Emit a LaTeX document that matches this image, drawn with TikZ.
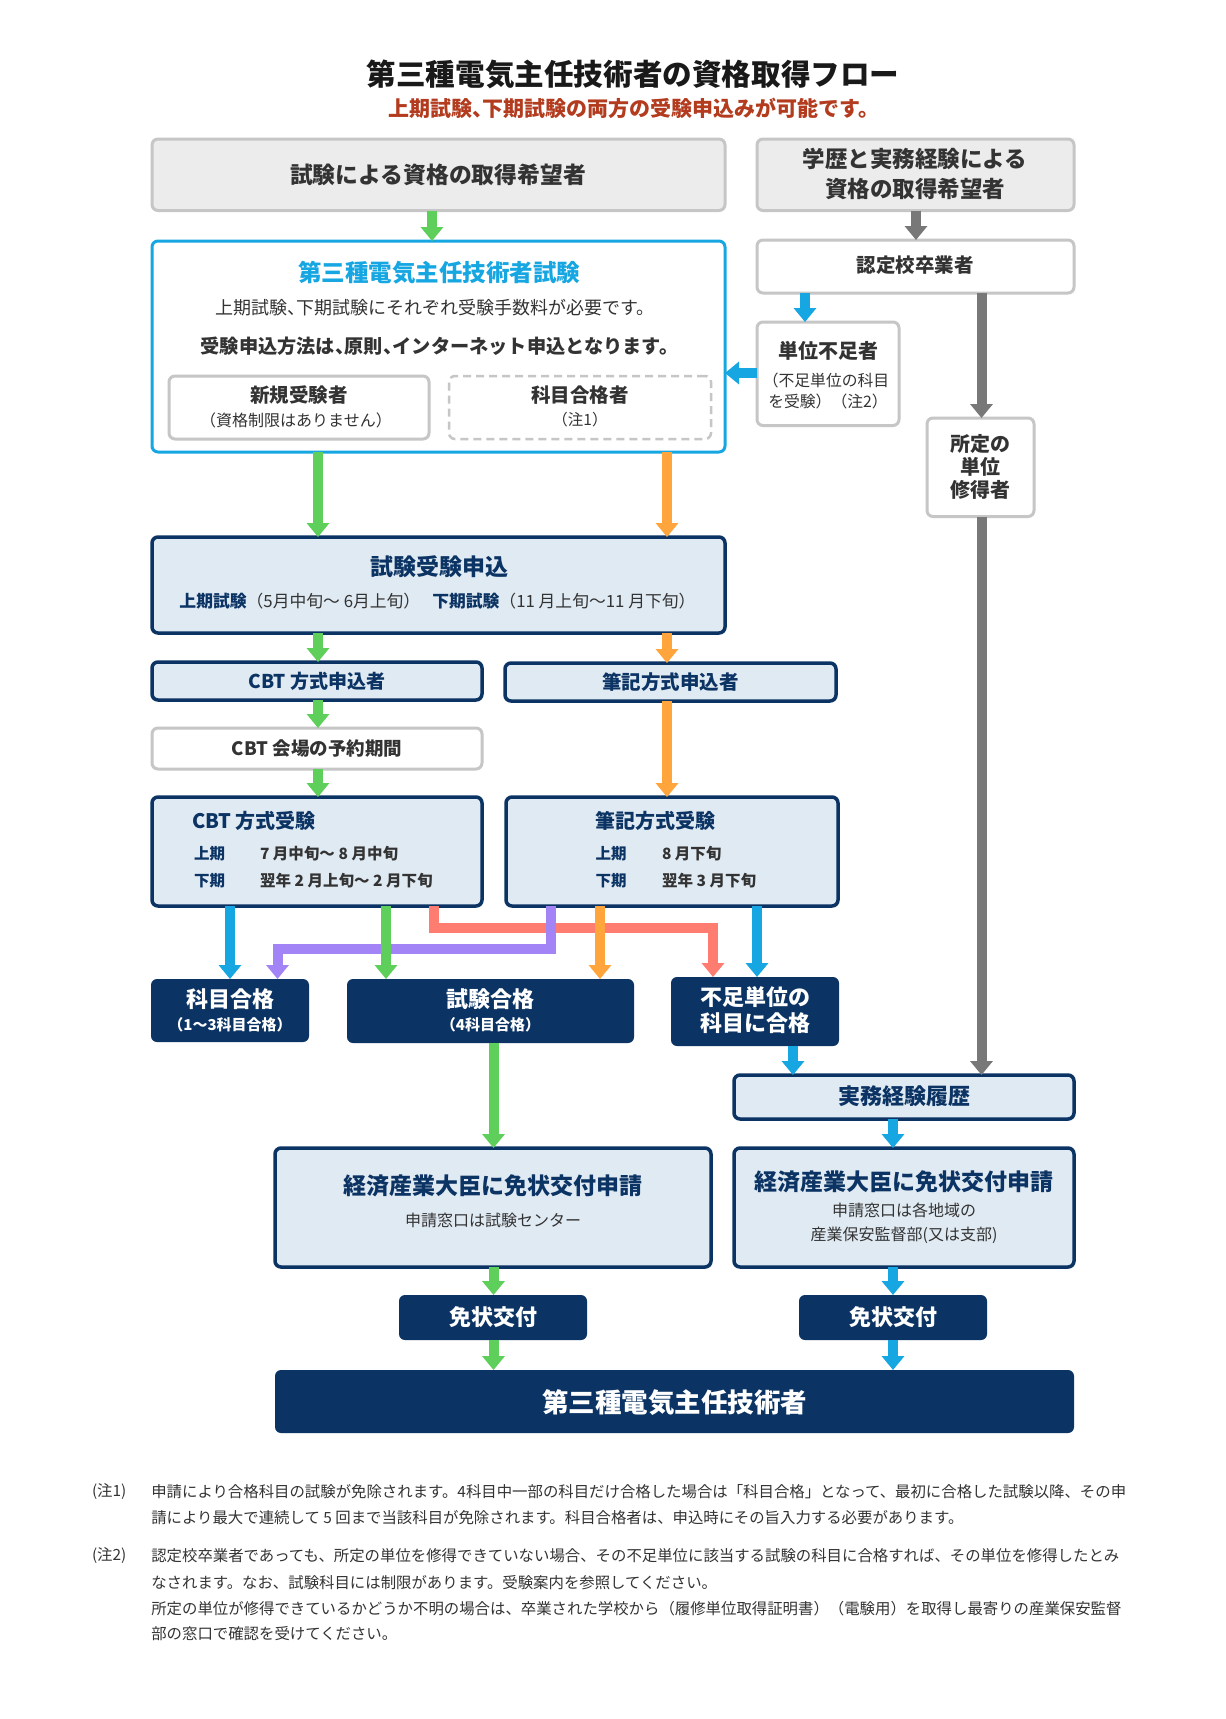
\documentclass[tikz,border=0pt]{standalone}
\usepackage{fontspec}
\setmainfont{Noto Sans CJK JP}
\usetikzlibrary{arrows.meta}
\definecolor{navy}{HTML}{0B3363}
\definecolor{lblue}{HTML}{E0EAF3}
\definecolor{gfill}{HTML}{ECECEC}
\definecolor{gline}{HTML}{C6C6C6}
\definecolor{cblue}{HTML}{16A6E2}
\definecolor{cgreen}{HTML}{5FCF5B}
\definecolor{corange}{HTML}{FFA53B}
\definecolor{cpurple}{HTML}{A384F6}
\definecolor{cred}{HTML}{FF7D70}
\definecolor{cgray}{HTML}{787878}
\definecolor{txt}{HTML}{333333}
\definecolor{subred}{HTML}{B33B1E}
\newcommand{\fs}[1]{\fontsize{#1}{#1}\selectfont}
\newcommand{\hc}{\makebox[0.5em][l]{、}}
\newcommand{\bx}[6]{\node[#2, minimum width={(#5)-(#3)}, minimum height={(#6)-(#4)}] (#1) at ({((#3)+(#5))/2},{((#4)+(#6))/2}) {};}
\tikzset{
 base/.style={rounded corners=6pt, inner sep=0pt, outer sep=0pt},
 graybox/.style={base, draw=gline, fill=gfill, line width=3pt},
 whitebox/.style={base, draw=gline, fill=white, line width=3pt},
 bluebox/.style={base, draw=cblue, fill=white, line width=3pt},
 navybox/.style={base, draw=navy, fill=lblue, line width=3.5pt},
 darkbox/.style={base, fill=navy},
 dashbox/.style={base, draw=gline, fill=white, line width=2.5pt, dash pattern=on 8pt off 5pt},
 t/.style={inner sep=0pt, outer sep=0pt, text=txt},
 arr/.style={line width=10pt, -{Triangle[width=22pt,length=14pt]}},
}
\begin{document}
\begin{tikzpicture}[x=1pt,y=-1pt]
\useasboundingbox (0,0) rectangle (1226,1719);
\fill[white] (0,0) rectangle (1226,1719);

% title
\node[t, text=black!90, font=\fs{29.6}\bfseries] (title) at (633,74.5) {第三種電気主任技術者の資格取得フロー};
\node[t, text=subred, font=\fs{21}\bfseries] (subtitle) at (634,108.5) {上期試験\hc 下期試験の両方の受験申込みが可能です。};

% boxes
\bx{A}{graybox}{152}{139}{725}{210.5}
\bx{B}{graybox}{757}{139}{1074}{210.5}
\bx{C}{bluebox}{152}{241}{725}{452}
\bx{C1}{whitebox}{169}{376}{429}{439}
\bx{C2}{dashbox}{449}{376}{711}{439}
\bx{D}{whitebox}{757}{240}{1074}{293}
\bx{E}{whitebox}{757}{322}{899}{425.5}
\bx{F}{whitebox}{927}{418}{1034}{516.5}
\bx{G}{navybox}{152}{537}{725}{633}
\bx{H}{navybox}{152}{662}{482}{700}
\bx{I}{navybox}{505}{663}{836}{701}
\bx{J}{whitebox}{152}{728}{482}{769}
\bx{K}{navybox}{152}{797}{482}{906}
\bx{L}{navybox}{506}{797}{838}{906}
\bx{M}{darkbox}{151}{979}{309}{1042}
\bx{N}{darkbox}{347}{979}{634}{1043}
\bx{O}{darkbox}{671}{977}{839}{1046}
\bx{P}{navybox}{734}{1075}{1074}{1119}
\bx{Q}{navybox}{275}{1148}{711}{1267}
\bx{R}{navybox}{734}{1148}{1074}{1267}
\bx{S}{darkbox}{399}{1295}{587}{1340}
\bx{T}{darkbox}{799}{1295}{987}{1340}
\bx{U}{darkbox}{275}{1370}{1074}{1433}

% column / row coordinates
\coordinate (c318) at (318,0);
\coordinate (c667) at (667,0);
\coordinate (c432) at (432,0);
\coordinate (c916) at (916,0);
\coordinate (c805) at (805,0);
\coordinate (c981) at (981.5,0);
\coordinate (c230) at (230,0);
\coordinate (c386) at (386,0);
\coordinate (c433) at (433.5,0);
\coordinate (c713) at (713,0);
\coordinate (c550) at (550.5,0);
\coordinate (c277) at (277.5,0);
\coordinate (c600) at (600,0);
\coordinate (c757) at (757,0);
\coordinate (c793) at (793,0);
\coordinate (c493) at (493.5,0);
\coordinate (c893) at (893,0);
\coordinate (r928) at (0,928);
\coordinate (r948) at (0,948.5);
\coordinate (r373) at (0,373);

% arrows
\draw[arr,cgreen] (A.south -| c432) -- (C.north -| c432);
\draw[arr,cgray] (B.south -| c916) -- (D.north -| c916);
\draw[arr,cblue] (D.south -| c805) -- (E.north -| c805);
\draw[arr,cblue] (E.west |- r373) -- (C.east |- r373);
\draw[arr,cgray] (D.south -| c981) -- (F.north -| c981);
\draw[arr,cgray] (F.south -| c981) -- (P.north -| c981);
\draw[arr,cgreen] (C.south -| c318) -- (G.north -| c318);
\draw[arr,corange] (C.south -| c667) -- (G.north -| c667);
\draw[arr,cgreen] (G.south -| c318) -- (H.north -| c318);
\draw[arr,corange] (G.south -| c667) -- (I.north -| c667);
\draw[arr,cgreen] (H.south -| c318) -- (J.north -| c318);
\draw[arr,cgreen] (J.south -| c318) -- (K.north -| c318);
\draw[arr,corange] (I.south -| c667) -- (L.north -| c667);
\draw[arr,cred] (K.south -| c433) -- (c433 |- r928) -- (c713 |- r928) -- (O.north -| c713);
\draw[arr,cpurple] (L.south -| c550) -- (c550 |- r948) -- (c277 |- r948) -- (M.north -| c277);
\draw[arr,cblue] (K.south -| c230) -- (M.north -| c230);
\draw[arr,cgreen] (K.south -| c386) -- (N.north -| c386);
\draw[arr,corange] (L.south -| c600) -- (N.north -| c600);
\draw[arr,cblue] (L.south -| c757) -- (O.north -| c757);
\draw[arr,cblue] (O.south -| c793) -- (P.north -| c793);
\draw[arr,cgreen] (N.south -| c493) -- (Q.north -| c493);
\draw[arr,cblue] (P.south -| c893) -- (R.north -| c893);
\draw[arr,cgreen] (Q.south -| c493) -- (S.north -| c493);
\draw[arr,cblue] (R.south -| c893) -- (T.north -| c893);
\draw[arr,cgreen] (S.south -| c493) -- (U.north -| c493);
\draw[arr,cblue] (T.south -| c893) -- (U.north -| c893);

% texts
\node[t, font=\fs{22.8}\bfseries] (tA) at (438,174.5) {試験による資格の取得希望者};
\node[t, font=\fs{22.5}\bfseries] (tB1) at (915,159) {学歴と実務経験による};
\node[t, font=\fs{22.5}\bfseries] (tB2) at (915,188.5) {資格の取得希望者};

\node[t, text=cblue, font=\fs{23.5}\bfseries] (tC1) at (439,273) {第三種電気主任技術者試験};
\node[t, font=\fs{18}] (tC2) at (435,308) {上期試験\hc 下期試験にそれぞれ受験手数料が必要です。};
\node[t, font=\fs{19.2}\bfseries] (tC3) at (439.5,346.5) {受験申込方法は\hc 原則\hc インターネット申込となります。};
\node[t, font=\fs{19.5}\bfseries] (tC1a) at (299,394.8) {新規受験者};
\node[t, font=\fs{16}] (tC1b) at (296,420) {（資格制限はありません）};
\node[t, font=\fs{19.5}\bfseries] (tC2a) at (580,394.8) {科目合格者};
\node[t, font=\fs{15.5}] (tC2b) at (580,420) {（注1）};

\node[t, font=\fs{19.5}\bfseries] (tD) at (915,265.5) {認定校卒業者};
\node[t, font=\fs{20}\bfseries] (tE1) at (828,351) {単位不足者};
\node[t, font=\fs{15.8}] (tE2) at (826,380.5) {（不足単位の科目};
\node[t, font=\fs{15.8}] (tE3) at (828,401.5) {を受験）（注2）};
\node[t, font=\fs{20}\bfseries] (tF1) at (980.5,444) {所定の};
\node[t, font=\fs{20}\bfseries] (tF2) at (980.5,467) {単位};
\node[t, font=\fs{20}\bfseries] (tF3) at (980.5,490) {修得者};

\node[t, text=navy, font=\fs{23}\bfseries] (tG1) at (439,567) {試験受験申込};
\node[t, font=\fs{16.8}] (tG2) at (437.5,601) {\textcolor{navy}{\bfseries 上期試験}（5月中旬～ 6月上旬）\hspace{12pt}\textcolor{navy}{\bfseries 下期試験}（11 月上旬～11 月下旬）};

\node[t, text=navy, font=\fs{19}\bfseries] (tH) at (317,681) {CBT 方式申込者};
\node[t, text=navy, font=\fs{19.5}\bfseries] (tI) at (670.5,682) {筆記方式申込者};
\node[t, font=\fs{18.5}\bfseries] (tJ) at (317,748.5) {CBT 会場の予約期間};

\node[t, text=navy, font=\fs{20}\bfseries, anchor=west] (tK1) at (192,821) {CBT 方式受験};
\node[t, text=navy, font=\fs{15.5}\bfseries, anchor=west] (tK2) at (194,854) {上期};
\node[t, font=\fs{15.5}\bfseries, anchor=west] (tK3) at (260,854) {7 月中旬～ 8 月中旬};
\node[t, text=navy, font=\fs{15.5}\bfseries, anchor=west] (tK4) at (194,880.5) {下期};
\node[t, font=\fs{15.5}\bfseries, anchor=west] (tK5) at (260,880.5) {翌年 2 月上旬～ 2 月下旬};

\node[t, text=navy, font=\fs{20}\bfseries, anchor=west] (tL1) at (595.5,821) {筆記方式受験};
\node[t, text=navy, font=\fs{15.5}\bfseries, anchor=west] (tL2) at (595.5,854) {上期};
\node[t, font=\fs{15.5}\bfseries, anchor=west] (tL3) at (662,854) {8 月下旬};
\node[t, text=navy, font=\fs{15.5}\bfseries, anchor=west] (tL4) at (595.5,880.5) {下期};
\node[t, font=\fs{15.5}\bfseries, anchor=west] (tL5) at (662,880.5) {翌年 3 月下旬};

\node[t, text=white, font=\fs{22}\bfseries] (tM1) at (230,999) {科目合格};
\node[t, text=white, font=\fs{15}\bfseries] (tM2) at (230,1025) {（1～3科目合格）};
\node[t, text=white, font=\fs{22}\bfseries] (tN1) at (490.5,999) {試験合格};
\node[t, text=white, font=\fs{15}\bfseries] (tN2) at (490.5,1025) {（4科目合格）};
\node[t, text=white, font=\fs{22}\bfseries] (tO1) at (755,997) {不足単位の};
\node[t, text=white, font=\fs{22}\bfseries] (tO2) at (755,1023.5) {科目に合格};

\node[t, text=navy, font=\fs{22}\bfseries] (tP) at (904,1096.5) {実務経験履歴};
\node[t, text=navy, font=\fs{23}\bfseries] (tQ1) at (493,1185.5) {経済産業大臣に免状交付申請};
\node[t, font=\fs{16}] (tQ2) at (493,1220.5) {申請窓口は試験センター};
\node[t, text=navy, font=\fs{23}\bfseries] (tR1) at (904,1182) {経済産業大臣に免状交付申請};
\node[t, font=\fs{16}] (tR2) at (904,1210.5) {申請窓口は各地域の};
\node[t, font=\fs{16}] (tR3) at (904,1235) {産業保安監督部(又は支部)};

\node[t, text=white, font=\fs{22}\bfseries] (tS) at (493,1317.5) {免状交付};
\node[t, text=white, font=\fs{22}\bfseries] (tT) at (893,1317.5) {免状交付};
\node[t, text=white, font=\fs{26.5}\bfseries] (tU) at (674.5,1402.5) {第三種電気主任技術者};

% notes
\begin{scope}[every node/.style={t, font=\fs{15.4}, anchor=west}]
\node (n1l) at (92,1491.5) {(注1)};
\node (n1a) at (151.3,1491.5) {申請により合格科目の試験が免除されます。4科目中一部の科目だけ合格した場合は「科目合格」となって、最初に合格した試験以降、その申};
\node (n1b) at (151.3,1517.7) {請により最大で連続して 5 回まで当該科目が免除されます。科目合格者は、申込時にその旨入力する必要があります。};
\node (n2l) at (92,1556) {(注2)};
\node (n2a) at (151.3,1556) {認定校卒業者であっても、所定の単位を修得できていない場合、その不足単位に該当する試験の科目に合格すれば、その単位を修得したとみ};
\node (n2b) at (151.3,1582.4) {なされます。なお、試験科目には制限があります。受験案内を参照してください。};
\node (n2c) at (151.3,1608.7) {所定の単位が修得できているかどうか不明の場合は、卒業された学校から（履修単位取得証明書）（電験用）を取得し最寄りの産業保安監督};
\node (n2d) at (151.3,1634) {部の窓口で確認を受けてください。};
\end{scope}
\end{tikzpicture}
\end{document}
